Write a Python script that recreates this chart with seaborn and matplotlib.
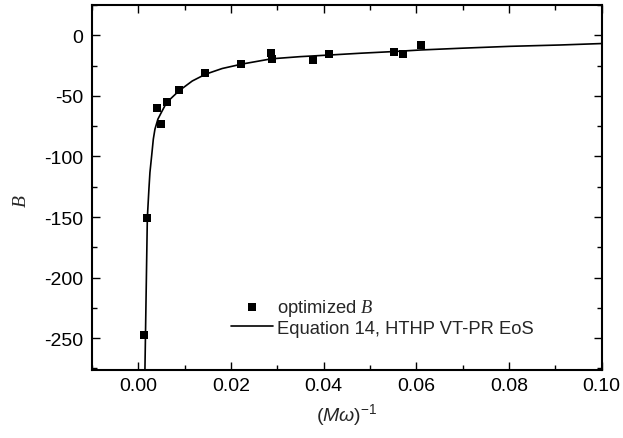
import numpy as np
import pandas as pd
import matplotlib
matplotlib.use("Agg")
import matplotlib.pyplot as plt
from matplotlib.ticker import MultipleLocator, FormatStrFormatter
import seaborn as sns

# optimized B values
opt_x = [0.00121, 0.00179, 0.00394, 0.0049, 0.00625, 0.00884, 0.01436, 0.02205,
         0.02859, 0.02895, 0.0377, 0.0412, 0.0552, 0.0571, 0.0610]
opt_y = [-247.0, -150.8, -60.4, -72.8, -55.2, -45.3, -30.8, -23.6,
         -14.3, -19.2, -20.6, -15.1, -13.7, -15.1, -8.2]

# Equation 14 curve
eq_x = [0.00140, 0.00142, 0.00154, 0.00173, 0.00194, 0.00228, 0.00250, 0.00287,
        0.00323, 0.00358, 0.00422, 0.00496, 0.00610, 0.00875, 0.01164,
        0.01451, 0.01810, 0.02241, 0.02873, 0.03498, 0.04116, 0.04791, 0.05517,
        0.06099, 0.06946, 0.08024, 0.09101, 0.1000]
eq_y = [-290.0, -275.9, -247.0, -201.0, -150.8, -126.9, -113.2, -99.5,
        -85.7, -77.5, -69.2, -63.7, -55.5, -45.9, -37.7,
        -32.1, -27.4, -23.7, -19.4, -17.6, -16.3, -14.8, -13.4,
        -12.1, -10.7, -9.1, -8.0, -6.8]

x_ticks = [0.00, 0.02, 0.04, 0.06, 0.08, 0.10]
y_ticks = [0, -50, -100, -150, -200, -250]

sns.set_style("ticks")
plt.rcParams["font.family"] = ["Liberation Sans", "DejaVu Sans"]
plt.rcParams["axes.unicode_minus"] = False
plt.rcParams["mathtext.fontset"] = "custom"
plt.rcParams["mathtext.it"] = "Liberation Sans:italic"
plt.rcParams["mathtext.rm"] = "Liberation Sans"
plt.rcParams["mathtext.cal"] = "Liberation Serif:italic"

fig = plt.figure(figsize=(6.23, 4.39), dpi=100)
ax = fig.add_axes([0.1477, 0.1556, 0.9658 - 0.1477, 0.9863 - 0.1556])

df_pts = pd.DataFrame({"x": opt_x, "y": opt_y})
df_eq = pd.DataFrame({"x": eq_x, "y": eq_y})

sns.lineplot(data=df_eq, x="x", y="y", ax=ax, color="black", linewidth=1.2,
             sort=False, estimator=None, label="Equation 14, HTHP VT-PR EoS", zorder=2)
sns.scatterplot(data=df_pts, x="x", y="y", ax=ax, marker="s", color="black",
                s=40, edgecolor="black", linewidth=0, label=r"optimized $\mathcal{B}$", zorder=3)

ax.set_xlim(-0.01, 0.10)
ax.set_ylim(-276, 25)
ax.set_xticks(x_ticks)
ax.set_yticks(y_ticks)
ax.xaxis.set_major_formatter(FormatStrFormatter("%.2f"))
ax.xaxis.set_minor_locator(MultipleLocator(0.01))
ax.yaxis.set_minor_locator(MultipleLocator(25))
ax.tick_params(which="both", direction="in", top=True, right=True, width=1.0,
               labelsize=14, colors="black")
ax.tick_params(which="major", length=6)
ax.tick_params(which="minor", length=3.5)
ax.tick_params(axis="x", which="major", pad=5)
ax.tick_params(axis="y", which="major", pad=6.5)
for sp in ax.spines.values():
    sp.set_linewidth(1.5)
    sp.set_color("black")

ax.set_xlabel(r"$(\mathit{M\omega})^{-1}$", fontsize=14)
ax.xaxis.set_label_coords(0.5, -0.085)
ax.set_ylabel("B", fontsize=14, family="Liberation Serif", style="italic")
ax.yaxis.set_label_coords(-0.122, 0.465)

h, l = ax.get_legend_handles_labels()
order = [1, 0]
ax.legend([h[i] for i in order], [l[i] for i in order], loc="center left",
          bbox_to_anchor=(0.2727, 0.1445), frameon=False, fontsize=13.2,
          borderpad=0, borderaxespad=0, handlelength=2.28, handletextpad=0.22,
          labelspacing=0.1)

fig.savefig("out.png", dpi=100)
